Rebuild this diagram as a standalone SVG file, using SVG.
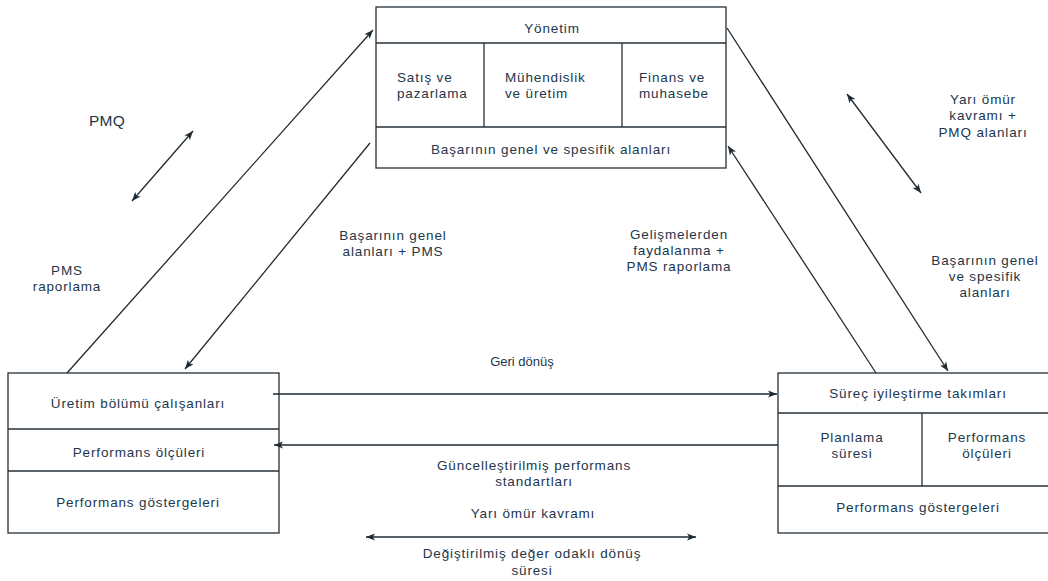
<svg xmlns="http://www.w3.org/2000/svg" width="1048" height="581" viewBox="0 0 1048 581">
  <style>
    .box { fill: #ffffff; stroke: #263038; stroke-width: 1.3; }
    .div { stroke: #263038; stroke-width: 1.3; fill: none; }
    .t { font-family: "Liberation Sans", Arial, sans-serif; font-size: 13.5px; letter-spacing: 0.85px; fill: #22364a; text-anchor: middle; }
    .l { text-anchor: start; }
    .big { font-size: 15.5px; letter-spacing: 0.3px; }
    .plain { font-size: 13px; letter-spacing: 0px; }
    .conn { stroke: #1f2b33; stroke-width: 1.3; fill: none; }
  </style>
  <defs>
    <marker id="ah" viewBox="0 0 10 10" refX="10" refY="5" markerWidth="9" markerHeight="9" markerUnits="userSpaceOnUse" orient="auto-start-reverse">
      <path d="M0,1 L10,5 L0,9 L2.5,5 Z" fill="#1f2b33"/>
    </marker>
  </defs>
  <rect width="1048" height="581" fill="#ffffff"/>

  <!-- Management block -->
  <g id="yonetim">
    <rect class="box" x="376" y="7" width="350" height="161"/>
    <line class="div" x1="376" y1="43" x2="726" y2="43"/>
    <line class="div" x1="376" y1="127" x2="726" y2="127"/>
    <line class="div" x1="484" y1="43" x2="484" y2="127"/>
    <line class="div" x1="622" y1="43" x2="622" y2="127"/>
    <text class="t" x="552" y="33">Yönetim</text>
    <text class="t l" x="397" y="82">Satış ve</text>
    <text class="t l" x="397" y="98">pazarlama</text>
    <text class="t l" x="505" y="82">Mühendislik</text>
    <text class="t l" x="505" y="98">ve üretim</text>
    <text class="t l" x="639" y="82">Finans ve</text>
    <text class="t l" x="639" y="98">muhasebe</text>
    <text class="t" x="551" y="154">Başarının genel ve spesifik alanları</text>
  </g>

  <!-- Production staff block -->
  <g id="uretim">
    <rect class="box" x="8" y="373" width="271" height="160"/>
    <line class="div" x1="8" y1="429" x2="279" y2="429"/>
    <line class="div" x1="8" y1="471" x2="279" y2="471"/>
    <text class="t" x="138" y="408">Üretim bölümü çalışanları</text>
    <text class="t" x="139" y="457">Performans ölçüleri</text>
    <text class="t" x="138" y="507">Performans göstergeleri</text>
  </g>

  <!-- Process improvement block -->
  <g id="surec">
    <rect class="box" x="778" y="373" width="290" height="160"/>
    <line class="div" x1="778" y1="413" x2="1048" y2="413"/>
    <line class="div" x1="778" y1="486" x2="1048" y2="486"/>
    <line class="div" x1="922" y1="413" x2="922" y2="486"/>
    <text class="t" x="918" y="398">Süreç iyileştirme takımları</text>
    <text class="t" x="852" y="442">Planlama</text>
    <text class="t" x="852" y="458">süresi</text>
    <text class="t" x="987" y="442">Performans</text>
    <text class="t" x="987" y="458">ölçüleri</text>
    <text class="t" x="918" y="512">Performans göstergeleri</text>
  </g>

  <!-- Connectors -->
  <g id="connectors">
    <line class="conn" x1="67" y1="373" x2="373" y2="30" marker-end="url(#ah)"/>
    <line class="conn" x1="370" y1="143" x2="185" y2="369" marker-end="url(#ah)"/>
    <line class="conn" x1="193" y1="131" x2="132" y2="201" marker-start="url(#ah)" marker-end="url(#ah)"/>
    <line class="conn" x1="876" y1="373" x2="728" y2="146" marker-end="url(#ah)"/>
    <line class="conn" x1="727" y1="28" x2="948" y2="371" marker-end="url(#ah)"/>
    <line class="conn" x1="847" y1="94" x2="921" y2="193" marker-start="url(#ah)" marker-end="url(#ah)"/>
    <line class="conn" x1="273" y1="394" x2="777" y2="394" marker-end="url(#ah)"/>
    <line class="conn" x1="778" y1="445" x2="274" y2="445" marker-end="url(#ah)"/>
    <line class="conn" x1="366" y1="537" x2="696" y2="537" marker-start="url(#ah)" marker-end="url(#ah)"/>
  </g>

  <!-- Connector labels -->
  <g id="labels">
    <text class="t big" x="107" y="126">PMQ</text>
    <text class="t" x="67" y="275">PMS</text>
    <text class="t" x="67" y="291">raporlama</text>
    <text class="t" x="393" y="240">Başarının genel</text>
    <text class="t" x="393" y="256">alanları + PMS</text>
    <text class="t" x="679" y="239">Gelişmelerden</text>
    <text class="t" x="679" y="255">faydalanma +</text>
    <text class="t" x="679" y="271">PMS raporlama</text>
    <text class="t" x="983" y="104">Yarı ömür</text>
    <text class="t" x="983" y="120">kavramı +</text>
    <text class="t" x="983" y="137">PMQ alanları</text>
    <text class="t" x="985" y="265">Başarının genel</text>
    <text class="t" x="985" y="281">ve spesifik</text>
    <text class="t" x="985" y="297">alanları</text>
    <text class="t plain" x="522" y="366">Geri dönüş</text>
    <text class="t" x="534" y="470">Güncelleştirilmiş performans</text>
    <text class="t" x="534" y="486">standartları</text>
    <text class="t" x="533" y="518">Yarı ömür kavramı</text>
    <text class="t" x="532" y="558">Değiştirilmiş değer odaklı dönüş</text>
    <text class="t" x="532" y="575">süresi</text>
  </g>
</svg>
